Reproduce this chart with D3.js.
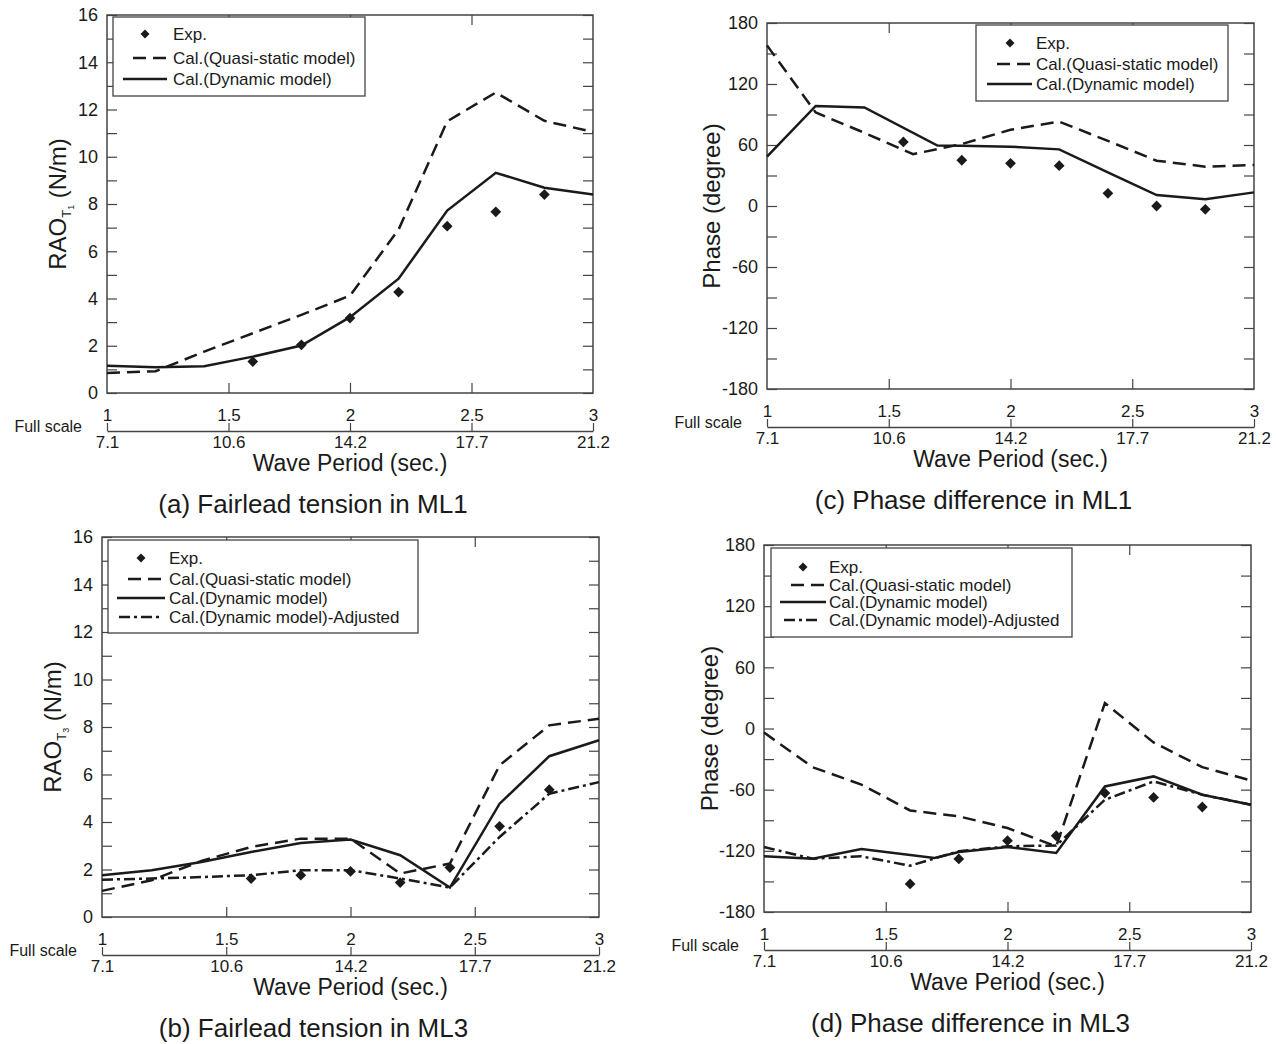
<!DOCTYPE html>
<html>
<head>
<meta charset="utf-8">
<script src="https://cdn.jsdelivr.net/npm/d3@7"></script>
<style>
  body { margin: 0; background: #fff; }
  svg { font-family: "Liberation Sans", Arial, sans-serif; }
</style>
</head>
<body>
<svg id="fig" width="1276" height="1044"></svg>
<script>

// wave period, model scale (sec.)
var calcX = [1.0, 1.2, 1.4, 1.6, 1.8, 2.0, 2.2, 2.4, 2.6, 2.8, 3.0];
var dynX  = [1.0, 1.2, 1.4, 1.7, 1.8, 2.0, 2.2, 2.4, 2.6, 2.8, 3.0];
var expX  = [1.6, 1.8, 2.0, 2.2, 2.4, 2.6, 2.8];
var expXc = [1.56, 1.8, 2.0, 2.2, 2.4, 2.6, 2.8];

var modelTicks = [1, 1.5, 2, 2.5, 3];
var fullTicks  = ["7.1", "10.6", "14.2", "17.7", "21.2"];

var raoTicks   = [0, 2, 4, 6, 8, 10, 12, 14, 16];
var phaseTicks = [-180, -120, -60, 0, 60, 120, 180];

var legendLabels = ["Exp.", "Cal.(Quasi-static model)", "Cal.(Dynamic model)", "Cal.(Dynamic model)-Adjusted"];

// (a) fairlead tension ML1
var aExp   = [1.33, 2.04, 3.17, 4.27, 7.06, 7.67, 8.40];
var aQuasi = [0.85, 0.92, 1.75, 2.53, 3.31, 4.12, 6.92, 11.5, 12.72, 11.52, 11.05];
var aDyn   = [1.15, 1.09, 1.13, 1.54, 2.01, 3.21, 4.84, 7.72, 9.32, 8.69, 8.40];

// (b) fairlead tension ML3
var bExp   = [1.62, 1.76, 1.92, 1.45, 2.08, 3.82, 5.36];
var bQuasi = [1.10, 1.55, 2.36, 2.95, 3.30, 3.30, 1.83, 2.25, 6.39, 8.07, 8.35];
var bDyn   = [1.76, 1.97, 2.32, 2.74, 3.12, 3.26, 2.60, 1.24, 4.77, 6.77, 7.44];
var bAdj   = [1.57, 1.62, 1.68, 1.76, 1.97, 1.97, 1.62, 1.24, 3.37, 5.19, 5.68];

// (c) phase difference ML1
var cExp   = [63, 45, 42, 39.7, 12.5, 0, -3.3];
var cQuasi = [158, 92, 72, 51, 61, 75, 83, 64, 44.6, 38.7, 40.3];
var cDyn   = [48.5, 98.4, 97, 59.5, 59.3, 58.4, 55.7, 33, 10.8, 6.6, 13.4];

// (d) phase difference ML3
var dExp   = [-152.5, -128, -110, -105.2, -63.3, -67.6, -77];
var dQuasi = [-4, -38, -55, -80.4, -86.2, -97.6, -115.6, 24.9, -13.7, -37.9, -51];
var dDyn   = [-125.4, -127.7, -118.2, -127, -121.1, -116.3, -122, -56.8, -47, -65, -74.8];
var dAdj   = [-116.3, -127.7, -125.4, -134.6, -120.5, -115.6, -114.7, -69.9, -51.9, -65, -74.8];


var svg = d3.select("#fig");
var ink = "#1a1a1a", axisInk = "#444";

var styles = {
  quasi: "13,7",
  dyn: null,
  adj: "11,4,3,4"
};

var panels = [
  { left: 107, right: 593, top: 15, bottom: 393, y: [0, 16], ticks: raoTicks, step: 1,
    ytitle: ["RAO", "T", "1", " (N/m)"], ytx: 66, caption: "(a) Fairlead tension in ML1",
    exp: d3.zip(expX, aExp),
    series: [["quasi", d3.zip(calcX, aQuasi)], ["dyn", d3.zip(calcX, aDyn)]],
    legend: { x0: 113, y0: 17, x1: 365, y1: 96, rows: [34, 58, 79], tx: 173, mx: 145,
              lines: { quasi: [133, 166], dyn: [123, 167] } } },
  { left: 102, right: 599, top: 537, bottom: 917, y: [0, 16], ticks: raoTicks, step: 1,
    ytitle: ["RAO", "T", "3", " (N/m)"], ytx: 61, caption: "(b) Fairlead tension in ML3",
    exp: d3.zip(expX, bExp),
    series: [["quasi", d3.zip(calcX, bQuasi)], ["dyn", d3.zip(calcX, bDyn)], ["adj", d3.zip(calcX, bAdj)]],
    legend: { x0: 108, y0: 540, x1: 418, y1: 633, rows: [558, 579, 598, 617], tx: 169, mx: 141,
              lines: { quasi: [128, 164], dyn: [117, 165], adj: [119, 160] } } },
  { left: 767, right: 1254, top: 23, bottom: 389, y: [-180, 180], ticks: phaseTicks, step: 30,
    ytitle: ["Phase (degree)"], ytx: 720, caption: "(c) Phase difference in ML1",
    exp: d3.zip(expXc, cExp),
    series: [["quasi", d3.zip(calcX, cQuasi)], ["dyn", d3.zip(dynX, cDyn)]],
    legend: { x0: 976, y0: 25, x1: 1228, y1: 101, rows: [43, 64, 84], tx: 1036, mx: 1010,
              lines: { quasi: [997, 1030], dyn: [987, 1032] } } },
  { left: 764, right: 1251, top: 545, bottom: 912, y: [-180, 180], ticks: phaseTicks, step: 30,
    ytitle: ["Phase (degree)"], ytx: 718, caption: "(d) Phase difference in ML3",
    exp: d3.zip(expX, dExp),
    series: [["quasi", d3.zip(calcX, dQuasi)], ["dyn", d3.zip(dynX, dDyn)], ["adj", d3.zip(calcX, dAdj)]],
    legend: { x0: 771, y0: 548, x1: 1072, y1: 637, rows: [567, 585, 602, 620], tx: 829, mx: 803,
              lines: { quasi: [791, 826], dyn: [780, 826], adj: [784, 821] } } }
];

panels.forEach(drawPanel);

function drawPanel(p) {
  var x = d3.scaleLinear().domain([1, 3]).range([p.left, p.right]);
  var y = d3.scaleLinear().domain(p.y).range([p.bottom, p.top]);
  var g = svg.append("g");

  var minor = d3.range(p.y[0], p.y[1] + p.step / 2, p.step);

  // left axis: ticks inward, labels on majors
  g.append("g")
      .attr("transform", "translate(" + p.left + ",0)")
      .call(d3.axisLeft(y).tickValues(minor).tickSizeInner(-10).tickSizeOuter(0).tickPadding(9)
        .tickFormat(function(d) { return p.ticks.indexOf(d) >= 0 ? d : ""; }))
      .call(tidy, 18);

  // right axis, ticks pointing in
  g.append("g")
      .attr("transform", "translate(" + p.right + ",0)")
      .call(d3.axisLeft(y).tickValues(minor).tickSize(10).tickFormat(""))
      .call(tidy);

  // top and bottom ticks
  g.append("g")
      .attr("transform", "translate(0," + p.bottom + ")")
      .call(d3.axisBottom(x).tickValues([1.5, 2, 2.5]).tickSize(-10).tickFormat(""))
      .call(tidy);
  g.append("g")
      .attr("transform", "translate(0," + p.top + ")")
      .call(d3.axisBottom(x).tickValues([1.5, 2, 2.5]).tickSize(10).tickFormat(""))
      .call(tidy);

  // frame
  g.append("rect")
      .attr("x", p.left).attr("y", p.top)
      .attr("width", p.right - p.left).attr("height", p.bottom - p.top)
      .attr("fill", "none").attr("stroke", axisInk).attr("stroke-width", 1.5);

  // second x axis: model scale above, full scale below
  var sec = p.bottom + 38;
  var top = g.append("g")
      .attr("transform", "translate(0," + sec + ")")
      .call(d3.axisTop(x).tickValues(modelTicks).tickSize(8).tickSizeOuter(0).tickPadding(2)
        .tickFormat(function(d) { return d; }));
  top.select(".domain").attr("stroke", axisInk).attr("stroke-width", 1.5);
  top.selectAll(".tick line").attr("stroke", axisInk).attr("stroke-width", 1.2);
  top.selectAll("text").attr("font-size", 17).attr("fill", ink);

  var bot = g.append("g")
      .attr("transform", "translate(0," + sec + ")")
      .call(d3.axisBottom(x).tickValues(modelTicks).tickSize(0).tickPadding(5)
        .tickFormat(function(d, i) { return fullTicks[i]; }));
  bot.select(".domain").remove();
  bot.selectAll("text").attr("font-size", 17).attr("fill", ink);

  g.append("text")
      .attr("x", p.left - 25).attr("y", sec + 1)
      .attr("text-anchor", "end").attr("font-size", 16).attr("fill", ink)
      .text("Full scale");

  g.append("text")
      .attr("x", (p.left + p.right) / 2).attr("y", sec + 40)
      .attr("text-anchor", "middle").attr("font-size", 23).attr("fill", ink)
      .text("Wave Period (sec.)");

  g.append("text")
      .attr("x", (p.left + p.right) / 2 - 37).attr("y", sec + 82)
      .attr("text-anchor", "middle").attr("font-size", 26).attr("fill", ink)
      .text(p.caption);

  // y title, with the subscript for tension
  var yt = g.append("text")
      .attr("transform", "translate(" + p.ytx + "," + (p.top + p.bottom) / 2 + ") rotate(-90)")
      .attr("text-anchor", "middle").attr("font-size", 24).attr("fill", ink);
  if (p.ytitle.length > 1) {
    yt.append("tspan").text(p.ytitle[0]);
    yt.append("tspan").attr("font-size", 13).attr("dy", 5).text(p.ytitle[1]);
    yt.append("tspan").attr("font-size", 9).attr("dy", 3).text(p.ytitle[2]);
    yt.append("tspan").attr("dy", -8).text(p.ytitle[3]);
  } else {
    yt.text(p.ytitle[0]);
  }

  // lines
  var line = d3.line()
      .x(function(d) { return x(d[0]); })
      .y(function(d) { return y(d[1]); });

  p.series.forEach(function(s) {
    g.append("path")
        .datum(s[1])
        .attr("d", line)
        .attr("fill", "none")
        .attr("stroke", ink)
        .attr("stroke-width", 2.5)
        .attr("stroke-dasharray", styles[s[0]]);
  });

  var diamond = d3.symbol().type(d3.symbolSquare).size(58);
  g.selectAll(".exp")
      .data(p.exp)
    .enter().append("path")
      .attr("class", "exp")
      .attr("d", diamond)
      .attr("transform", function(d) { return "translate(" + x(d[0]) + "," + y(d[1]) + ") rotate(45)"; })
      .attr("fill", ink);

  // legend
  var L = p.legend;
  var lg = g.append("g");
  lg.append("rect")
      .attr("x", L.x0).attr("y", L.y0)
      .attr("width", L.x1 - L.x0).attr("height", L.y1 - L.y0)
      .attr("fill", "#fff").attr("stroke", axisInk).attr("stroke-width", 1.3);

  lg.append("path")
      .attr("d", d3.symbol().type(d3.symbolSquare).size(40))
      .attr("transform", "translate(" + L.mx + "," + L.rows[0] + ") rotate(45)")
      .attr("fill", ink);

  var keys = ["exp"].concat(p.series.map(function(s) { return s[0]; }));
  keys.forEach(function(k, i) {
    if (k !== "exp") {
      lg.append("line")
          .attr("x1", L.lines[k][0]).attr("x2", L.lines[k][1])
          .attr("y1", L.rows[i]).attr("y2", L.rows[i])
          .attr("stroke", ink).attr("stroke-width", 2.5)
          .attr("stroke-dasharray", styles[k]);
    }
    lg.append("text")
        .attr("x", L.tx).attr("y", L.rows[i]).attr("dy", "0.35em")
        .attr("font-size", 17).attr("fill", ink)
        .text(legendLabels[i]);
  });
}

function tidy(sel, fs) {
  sel.select(".domain").remove();
  sel.selectAll(".tick line").attr("stroke", axisInk).attr("stroke-width", 1.2);
  sel.selectAll("text").attr("font-size", fs || 17).attr("fill", ink);
}

</script>
</body>
</html>
